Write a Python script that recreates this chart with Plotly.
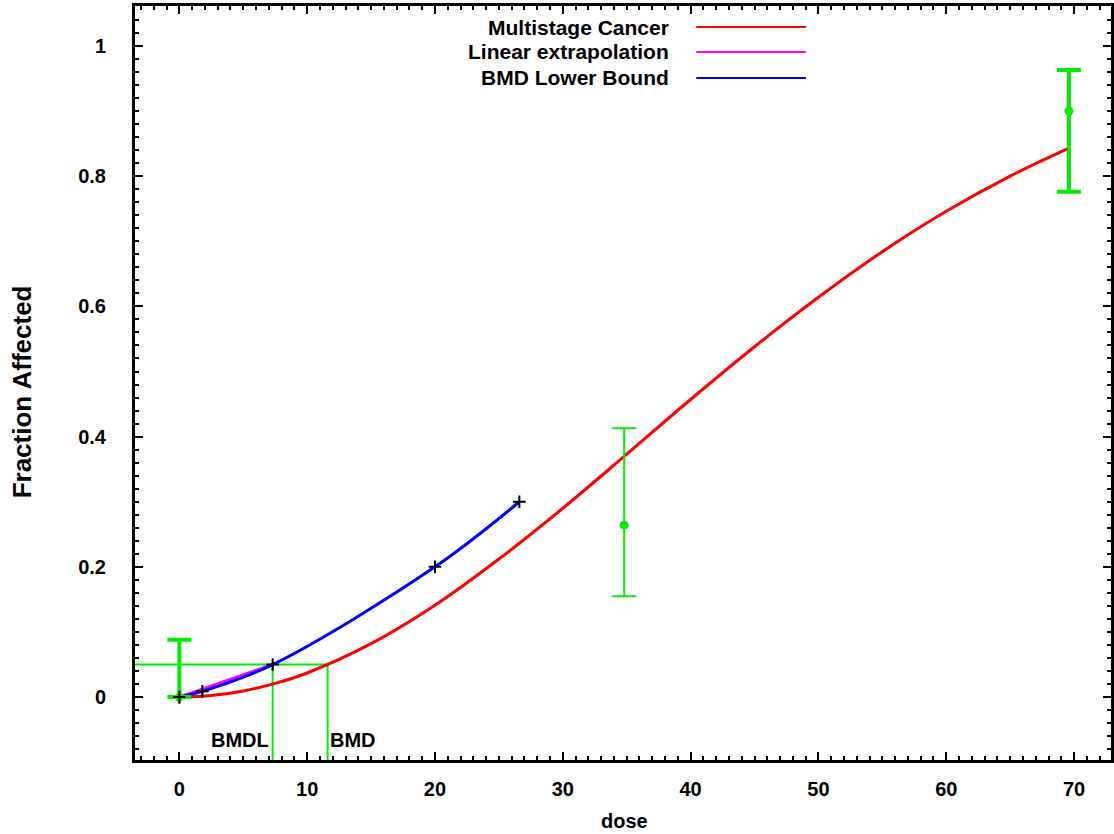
import plotly.graph_objects as go

# ---- data ----
dose_obs = [0, 34.8, 69.6]
frac_obs = [0, 0.264, 0.90]
err_hi = [0.088, 0.413, 0.963]
err_lo = [0.0, 0.155, 0.776]

dose_fit = [0, 2.5, 5, 7.5, 10, 15, 20, 25, 30, 35, 40, 45, 50, 55, 60, 65, 69.6]
frac_fit = [0, 0.0024, 0.0095, 0.021, 0.037, 0.082, 0.141, 0.212, 0.29, 0.373, 0.457,
            0.538, 0.614, 0.684, 0.746, 0.80, 0.843]

dose_bmdl_curve = [0, 1.8, 7.3, 20, 26.6]
frac_bmdl_curve = [0, 0.009, 0.05, 0.2, 0.3]

BMR = 0.05
BMD = 11.6
BMDL = 7.3
dose_lin = [0, BMDL]
frac_lin = [0, BMR]

legend_names = ["Multistage Cancer", "Linear extrapolation", "BMD Lower Bound"]
legend_colors = ["#ff0000", "#ff00ff", "#0000ff"]

# ---- layout geometry ----
W, H = 1114, 834
L, R, T, B = 135, 0, 6, 74
XR = [-3.47, 72.89]
YR = [-0.0966, 1.0613]

FONT = "Liberation Sans, Arial, sans-serif"
GREEN = "#00ee00"


def px(x):
    return (x - L) / (W - L - R)


def py(y):
    return (H - B - y) / (H - T - B)


fig = go.Figure()

# BMD guide lines
fig.add_trace(go.Scatter(x=[XR[0], BMD, BMD], y=[BMR, BMR, YR[0]], mode="lines",
                         line=dict(color=GREEN, width=2), showlegend=False, hoverinfo="skip"))
fig.add_trace(go.Scatter(x=[BMDL, BMDL], y=[BMR, YR[0]], mode="lines",
                         line=dict(color=GREEN, width=2), showlegend=False, hoverinfo="skip"))

# model curve
fig.add_trace(go.Scatter(x=dose_fit, y=frac_fit, mode="lines",
                         line=dict(color="#ff0000", width=3, shape="spline", smoothing=1.0),
                         showlegend=False))
# linear extrapolation
fig.add_trace(go.Scatter(x=dose_lin, y=frac_lin, mode="lines", line=dict(color="#ff00ff", width=3),
                         showlegend=False))
# BMD lower bound
fig.add_trace(go.Scatter(x=dose_bmdl_curve, y=frac_bmdl_curve, mode="lines+markers",
                         line=dict(color="#0000ff", width=3, shape="spline"),
                         marker=dict(symbol="cross-thin", size=9, line=dict(color="black", width=2), color="black"),
                         showlegend=False))

# observed data with error bars
thick = [4, 2, 4]
for i in range(len(dose_obs)):
    fig.add_trace(go.Scatter(
        x=[dose_obs[i]], y=[frac_obs[i]], mode="markers",
        marker=dict(color=GREEN, size=9, symbol="circle"),
        error_y=dict(type="data", symmetric=False,
                     array=[err_hi[i] - frac_obs[i]], arrayminus=[frac_obs[i] - err_lo[i]],
                     color=GREEN, thickness=thick[i], width=12),
        showlegend=False))

# black marker at origin
fig.add_trace(go.Scatter(x=[dose_bmdl_curve[0]], y=[frac_bmdl_curve[0]], mode="markers",
                         marker=dict(symbol="cross-thin", size=9, line=dict(color="black", width=2)),
                         showlegend=False))

annotations = []
shapes = []
# gnuplot-style legend
leg_y = [27, 52, 78]
for name, col, yy in zip(legend_names, legend_colors, leg_y):
    annotations.append(dict(x=px(673), y=py(yy), xref="paper", yref="paper", text=name, showarrow=False,
                            xanchor="right", yanchor="middle",
                            font=dict(family=FONT, size=21, color="black", weight="bold")))
    shapes.append(dict(type="line", xref="paper", yref="paper", x0=px(698), x1=px(808), y0=py(yy), y1=py(yy),
                       line=dict(color=col, width=2)))

# BMD labels
annotations.append(dict(x=BMDL, y=py(740), xref="x", yref="paper", text="BMDL", showarrow=False,
                        xanchor="right", yanchor="middle", xshift=-2,
                        font=dict(family=FONT, size=20, color="black", weight="bold")))
annotations.append(dict(x=BMD, y=py(740), xref="x", yref="paper", text="BMD", showarrow=False,
                        xanchor="left", yanchor="middle", xshift=0,
                        font=dict(family=FONT, size=20, color="black", weight="bold")))

# axis titles
annotations.append(dict(x=px(626), y=py(821), xref="paper", yref="paper", text="dose", showarrow=False,
                        xanchor="center", yanchor="middle",
                        font=dict(family=FONT, size=20, color="black", weight="bold")))
annotations.append(dict(x=px(22), y=py(392), xref="paper", yref="paper", text="Fraction Affected", showarrow=False,
                        xanchor="center", yanchor="middle", textangle=-90,
                        font=dict(family=FONT, size=26, color="black", weight="bold")))

tickfont = dict(family=FONT, size=20, color="black", weight="bold")
fig.update_layout(
    width=W, height=H,
    margin=dict(l=L, r=R, t=T, b=B, pad=0),
    paper_bgcolor="white", plot_bgcolor="white",
    showlegend=False,
    annotations=annotations, shapes=shapes,
    xaxis=dict(range=XR, tick0=0, dtick=10, ticks="inside", ticklen=8, tickwidth=2, tickcolor="black",
               showline=True, linecolor="black", linewidth=3, mirror="allticks", showgrid=False, zeroline=False,
               tickfont=tickfont, ticklabelstandoff=9,
               minor=dict(dtick=1, ticks="inside", ticklen=4, tickwidth=2, tickcolor="black", showgrid=False)),
    yaxis=dict(range=YR, tick0=0, dtick=0.2, ticks="inside", ticklen=8, tickwidth=2, tickcolor="black",
               showline=True, linecolor="black", linewidth=3, mirror="allticks", showgrid=False, zeroline=False,
               tickfont=tickfont, ticklabelstandoff=22,
               minor=dict(dtick=0.02, ticks="inside", ticklen=4, tickwidth=2, tickcolor="black", showgrid=False)),
)

fig.write_html("out.html")
